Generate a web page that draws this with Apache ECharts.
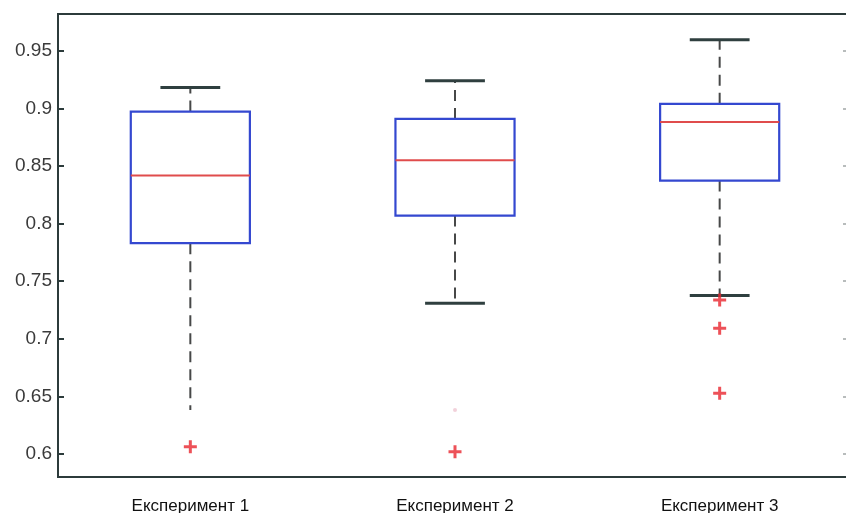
<!DOCTYPE html>
<html>
<head>
<meta charset="utf-8">
<script src="https://cdn.jsdelivr.net/npm/echarts@6/dist/echarts.min.js"></script>
<style>
  html, body { margin: 0; padding: 0; background: #ffffff; }
  #chart { width: 846px; height: 513px; }
</style>
</head>
<body>
<div id="chart"></div>
<script>
// Experiment names along the x axis
const categories = ['Експеримент 1', 'Експеримент 2', 'Експеримент 3'];

// Five-number summaries per experiment
const whiskerLow  = [0.6382, 0.7309, 0.7375];
const quartile1   = [0.7830, 0.8070, 0.8374];
const medians     = [0.8417, 0.8551, 0.8883];
const quartile3   = [0.8973, 0.8909, 0.9040];
const whiskerHigh = [0.9181, 0.9240, 0.9596];
const lowerCapDrawn = [false, true, true];

// Outliers per experiment
const outliers = [
  [0.6063],
  [0.6020],
  [0.7337, 0.7092, 0.6527]
];
// Faint extra point in experiment 2
const faintPoints = [[1, 0.6382]];

// Y tick values
const yTicks = [0.6, 0.65, 0.7, 0.75, 0.8, 0.85, 0.9, 0.95];

const boxData = categories.map((c, i) => [
  i, whiskerLow[i], quartile1[i], medians[i], quartile3[i], whiskerHigh[i], lowerCapDrawn[i] ? 1 : 0
]);
const outlierData = [];
outliers.forEach((list, i) => list.forEach(v => outlierData.push([i, v])));

const BOX_BLUE = '#3448d0';
const MEDIAN_RED = '#e04c4c';
const WHISKER = '#474848';
const CAP = '#2f3f3f';

function renderBox(params, api) {
  const i = api.value(0);
  const yOf = v => api.coord([i, v])[1];
  const x = api.coord([i, api.value(3)])[0];
  const band = api.size([1, 0])[0];
  const half = band * 0.225;
  const capHalf = band * 0.113;
  const yLo = yOf(api.value(1)), yQ1 = yOf(api.value(2)), yMed = yOf(api.value(3));
  const yQ3 = yOf(api.value(4)), yHi = yOf(api.value(5));
  const dash = { stroke: WHISKER, lineWidth: 2, lineDash: [11, 7] };
  const children = [
    { type: 'line', shape: { x1: x, y1: yQ3, x2: x, y2: yHi }, style: dash },
    { type: 'line', shape: { x1: x, y1: yQ1, x2: x, y2: yLo }, style: dash },
    { type: 'line', shape: { x1: x - capHalf, y1: yHi, x2: x + capHalf, y2: yHi },
      style: { stroke: CAP, lineWidth: 3 } },
    { type: 'rect', shape: { x: x - half, y: yQ3, width: half * 2, height: yQ1 - yQ3 },
      style: { fill: '#ffffff', stroke: BOX_BLUE, lineWidth: 2.2 } },
    { type: 'line', shape: { x1: x - half, y1: yMed, x2: x + half, y2: yMed },
      style: { stroke: MEDIAN_RED, lineWidth: 2 } }
  ];
  if (api.value(6)) {
    children.push({ type: 'line', shape: { x1: x - capHalf, y1: yLo, x2: x + capHalf, y2: yLo },
      style: { stroke: CAP, lineWidth: 3 } });
  }
  return { type: 'group', children: children };
}

const chart = echarts.init(document.getElementById('chart'), null, { renderer: 'canvas' });
chart.setOption({
  animation: false,
  backgroundColor: '#ffffff',
  grid: {
    left: 58, top: 14, bottom: 36, width: 794,
    outerBoundsMode: 'none',
    containLabel: false,
    show: true, borderColor: '#2c3b3b', borderWidth: 2, backgroundColor: 'transparent'
  },
  xAxis: {
    type: 'category',
    data: categories,
    boundaryGap: true,
    axisLine: { show: false },
    axisTick: { show: false },
    splitLine: { show: false },
    axisLabel: {
      color: '#111111',
      fontFamily: 'Liberation Sans, Arial, sans-serif',
      fontSize: 17,
      margin: 21
    }
  },
  yAxis: [{
    type: 'value',
    min: 0.58,
    max: 0.982,
    position: 'left',
    axisLine: { show: false },
    splitLine: { show: false },
    axisTick: { show: true, inside: true, length: 6, customValues: yTicks,
      lineStyle: { color: '#2c3b3b', width: 2 } },
    axisLabel: {
      customValues: yTicks,
      color: '#3a3a3a',
      fontFamily: 'Liberation Sans, Arial, sans-serif',
      fontSize: 19,
      margin: 6
    }
  }, {
    type: 'value',
    min: 0.58,
    max: 0.982,
    position: 'right',
    axisLine: { show: false },
    splitLine: { show: false },
    axisTick: { show: true, inside: true, length: 9, customValues: yTicks,
      lineStyle: { color: '#b8bcbc', width: 2 } },
    axisLabel: { show: false }
  }],
  series: [{
    type: 'custom',
    renderItem: renderBox,
    data: boxData,
    encode: { x: 0, y: [1, 2, 3, 4, 5] },
    z: 2
  }, {
    type: 'scatter',
    data: outlierData,
    symbol: 'path://M5,0H8V5H13V8H8V13H5V8H0V5H5Z',
    symbolSize: 13,
    itemStyle: { color: '#e8262e' },
    z: 3
  }, {
    type: 'scatter',
    data: faintPoints,
    symbol: 'circle',
    symbolSize: 4,
    itemStyle: { color: 'rgba(225,150,170,0.55)' },
    z: 3
  }]
});
</script>
</body>
</html>
